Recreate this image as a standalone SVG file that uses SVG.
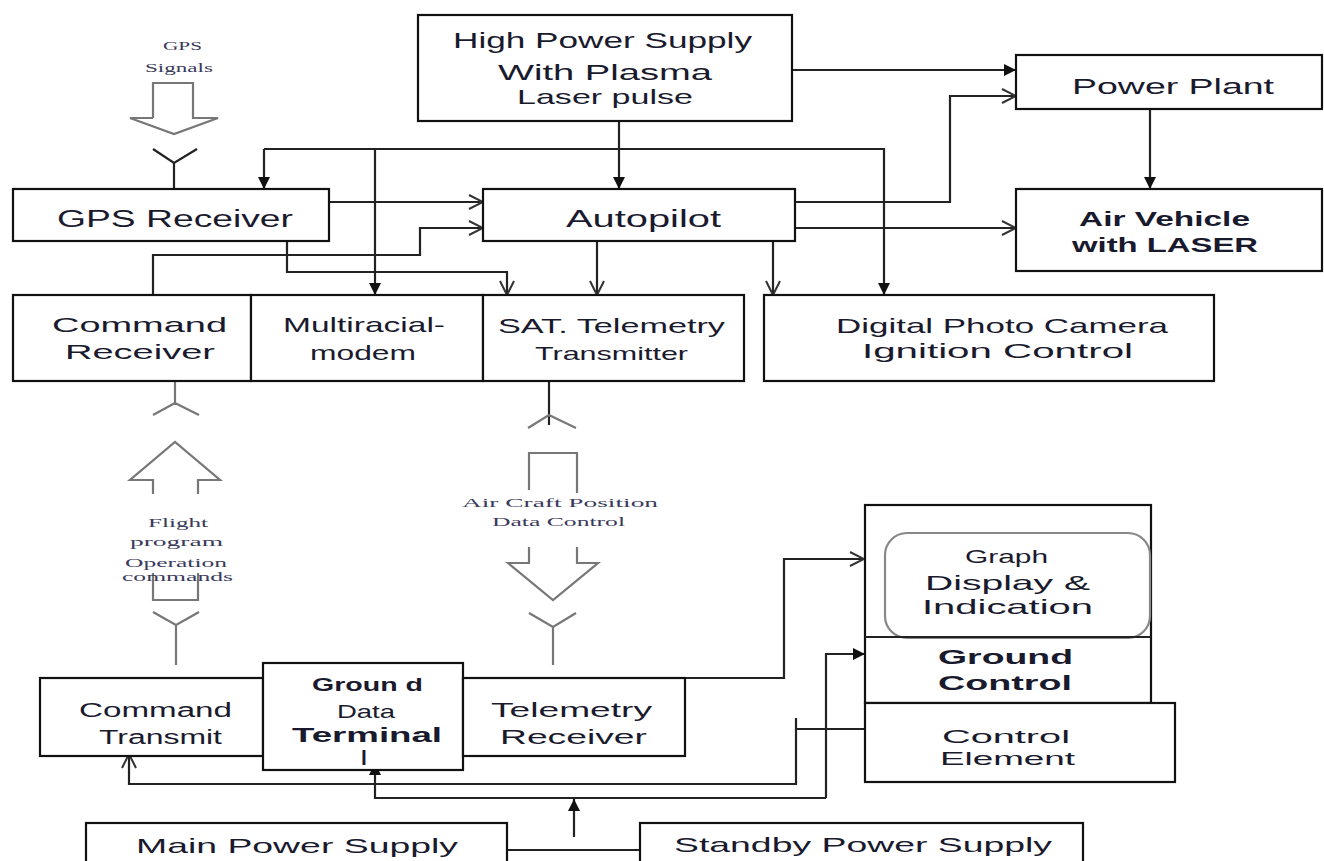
<svg xmlns="http://www.w3.org/2000/svg" width="1324" height="861" viewBox="0 0 1324 861">
<style>
.box{fill:#fff;stroke:#111;stroke-width:2.2}
.ln{fill:none;stroke:#222;stroke-width:2.2}
.gl{fill:none;stroke:#777;stroke-width:2.2}
.t{font-family:"Liberation Sans",Arial,sans-serif;fill:#1a1a2e}
.b{font-weight:bold}
.s{font-family:"Liberation Serif","Times New Roman",serif;fill:#3a3a5a;font-size:13px}
</style>
<defs>
<marker id="fa" viewBox="0 0 12 12" refX="12" refY="6" markerWidth="12" markerHeight="12" markerUnits="userSpaceOnUse" orient="auto"><path d="M0,0L12,6L0,12z" fill="#111"/></marker>
<marker id="oa" viewBox="0 0 16 16" refX="15" refY="8" markerWidth="16" markerHeight="16" markerUnits="userSpaceOnUse" orient="auto"><path d="M1,1L15,8L1,15" fill="none" stroke="#333" stroke-width="2"/></marker>
</defs>
<rect width="1324" height="861" fill="#fff"/>

<g id="connectors">
<path class="ln" d="M619,110V189" marker-end="url(#fa)"/>
<path class="ln" d="M792,70H1016" marker-end="url(#fa)"/>
<path class="ln" d="M264,149H884V295" marker-end="url(#fa)"/>
<path class="ln" d="M264,149V189" marker-end="url(#fa)"/>
<path class="ln" d="M375,149V295" marker-end="url(#fa)"/>
<path class="ln" d="M329,202H483" marker-end="url(#oa)"/>
<path class="ln" d="M153,295V255H420V228H483" marker-end="url(#oa)"/>
<path class="ln" d="M287,241V272H507V295" marker-end="url(#oa)"/>
<path class="ln" d="M597,241V295" marker-end="url(#oa)"/>
<path class="ln" d="M773,241V295" marker-end="url(#oa)"/>
<path class="ln" d="M795,202H950V96H1016" marker-end="url(#oa)"/>
<path class="ln" d="M795,228H1016" marker-end="url(#oa)"/>
<path class="ln" d="M1150,109V189" marker-end="url(#fa)"/>
<path class="ln" d="M685,678H784V559H864" marker-end="url(#oa)"/>
<path class="ln" d="M826,798V654H865" marker-end="url(#fa)"/>
<path class="ln" d="M826,798H375V763" marker-end="url(#fa)"/>
<path class="ln" d="M796,718V784H129V754" marker-end="url(#oa)"/>
<path class="ln" d="M796,729H865"/>
<path class="ln" d="M574,837V799" marker-end="url(#fa)"/>
<path class="ln" d="M507,850H640"/>
<path class="gl" d="M153,118V83H193V118H218L174,134L130,118H153"/>
<path class="ln" d="M153,149L174,163L197,149M174,163V189"/>
<path class="gl" d="M175,376V405M153,415L175,403L199,415"/>
<path class="gl" d="M153,494V480H130L175,442L220,480H198V494"/>
<path class="gl" d="M153,573V600H198V573"/>
<path class="gl" d="M153,612L176,625L199,612M176,625V665"/>
<path class="ln" d="M549,381V425"/>
<path class="gl" d="M528,428L549,415L576,428"/>
<path class="gl" d="M529,490V453H577V493"/>
<path class="gl" d="M529,547V563H508L553,600L598,563H577V547"/>
<path class="gl" d="M529,613L553,627L576,613M553,627V665"/>
</g>

<g id="gps-signals">
<text class="s" x="163" y="50" textLength="39" lengthAdjust="spacingAndGlyphs">GPS</text>
<text class="s" x="145" y="72" textLength="68" lengthAdjust="spacingAndGlyphs">Signals</text>
</g>

<g id="high-power-supply">
<rect class="box" x="418" y="15" width="374" height="106"/>
<text class="t" font-size="22" x="453" y="48" textLength="299" lengthAdjust="spacingAndGlyphs">High  Power  Supply</text>
<text class="t" font-size="22" x="498" y="80" textLength="214" lengthAdjust="spacingAndGlyphs">With Plasma</text>
<text class="t" font-size="21" x="517" y="104" textLength="176" lengthAdjust="spacingAndGlyphs">Laser  pulse</text>
</g>

<g id="power-plant">
<rect class="box" x="1016" y="55" width="306" height="54"/>
<text class="t" font-size="22" x="1072" y="94" textLength="202" lengthAdjust="spacingAndGlyphs">Power Plant</text>
</g>

<g id="gps-receiver">
<rect class="box" x="13" y="189" width="316" height="52"/>
<text class="t" font-size="23" x="57" y="227" textLength="236" lengthAdjust="spacingAndGlyphs">GPS Receiver</text>
</g>

<g id="autopilot">
<rect class="box" x="483" y="189" width="312" height="52"/>
<text class="t" font-size="23" x="566" y="227" textLength="155" lengthAdjust="spacingAndGlyphs">Autopilot</text>
</g>

<g id="air-vehicle">
<rect class="box" x="1016" y="189" width="306" height="82"/>
<text class="t b" font-size="21" x="1079" y="226" textLength="171" lengthAdjust="spacingAndGlyphs">Air  Vehicle</text>
<text class="t b" font-size="21" x="1072" y="252" textLength="186" lengthAdjust="spacingAndGlyphs">with  LASER</text>
</g>

<g id="command-receiver">
<rect class="box" x="13" y="295" width="238" height="86"/>
<text class="t" font-size="21" x="52" y="332" textLength="175" lengthAdjust="spacingAndGlyphs">Command</text>
<text class="t" font-size="21" x="65" y="359" textLength="150" lengthAdjust="spacingAndGlyphs">Receiver</text>
</g>

<g id="multiracial-modem">
<rect class="box" x="251" y="295" width="232" height="86"/>
<text class="t" font-size="21" x="283" y="332" textLength="162" lengthAdjust="spacingAndGlyphs">Multiracial-</text>
<text class="t" font-size="21" x="310" y="360" textLength="106" lengthAdjust="spacingAndGlyphs">modem</text>
</g>

<g id="sat-telemetry">
<rect class="box" x="483" y="295" width="261" height="86"/>
<text class="t" font-size="21" x="498" y="333" textLength="227" lengthAdjust="spacingAndGlyphs">SAT. Telemetry</text>
<text class="t" font-size="19" x="535" y="360" textLength="153" lengthAdjust="spacingAndGlyphs">Transmitter</text>
</g>

<g id="digital-photo-camera">
<rect class="box" x="764" y="295" width="450" height="86"/>
<text class="t" font-size="21" x="836" y="333" textLength="332" lengthAdjust="spacingAndGlyphs">Digital  Photo  Camera</text>
<text class="t" font-size="21" x="862" y="358" textLength="271" lengthAdjust="spacingAndGlyphs">Ignition Control</text>
</g>

<g id="flight-program">
<text class="s" x="148" y="527" textLength="60" lengthAdjust="spacingAndGlyphs">Flight</text>
<text class="s" x="130" y="546" textLength="93" lengthAdjust="spacingAndGlyphs">program</text>
<text class="s" x="125" y="567" textLength="102" lengthAdjust="spacingAndGlyphs">Operation</text>
<text class="s" x="122" y="581" textLength="111" lengthAdjust="spacingAndGlyphs">commands</text>
</g>

<g id="aircraft-position">
<text class="s" x="462" y="507" textLength="196" lengthAdjust="spacingAndGlyphs">Air  Craft  Position</text>
<text class="s" x="492" y="526" textLength="133" lengthAdjust="spacingAndGlyphs">Data  Control</text>
</g>

<g id="ground-control">
<rect class="box" x="865" y="505" width="286" height="198"/>
<rect x="885" y="533" width="265" height="105" rx="22" fill="none" stroke="#888" stroke-width="2.2"/>
<path class="ln" d="M865,637H1151"/>
<text class="t" font-size="19" x="965" y="563" textLength="83" lengthAdjust="spacingAndGlyphs">Graph</text>
<text class="t" font-size="21" x="925" y="590" textLength="165" lengthAdjust="spacingAndGlyphs">Display &amp;</text>
<text class="t" font-size="21" x="922" y="614" textLength="171" lengthAdjust="spacingAndGlyphs">Indication</text>
<text class="t b" font-size="21" x="938" y="664" textLength="135" lengthAdjust="spacingAndGlyphs">Ground</text>
<text class="t b" font-size="21" x="938" y="690" textLength="134" lengthAdjust="spacingAndGlyphs">Control</text>
</g>

<g id="control-element">
<rect class="box" x="865" y="703" width="310" height="79"/>
<text class="t" font-size="18" x="942" y="743" textLength="128" lengthAdjust="spacingAndGlyphs">Control</text>
<text class="t" font-size="18" x="940" y="765" textLength="135" lengthAdjust="spacingAndGlyphs">Element</text>
</g>

<g id="command-transmit">
<rect class="box" x="40" y="678" width="223" height="78"/>
<text class="t" font-size="20" x="79" y="717" textLength="153" lengthAdjust="spacingAndGlyphs">Command</text>
<text class="t" font-size="20" x="99" y="744" textLength="123" lengthAdjust="spacingAndGlyphs">Transmit</text>
</g>

<g id="ground-data-terminal">
<rect class="box" x="263" y="663" width="200" height="107"/>
<text class="t b" font-size="19" x="312" y="691" textLength="111" lengthAdjust="spacingAndGlyphs">Groun d</text>
<text class="t" font-size="19" x="337" y="718" textLength="58" lengthAdjust="spacingAndGlyphs">Data</text>
<text class="t b" font-size="21" x="292" y="742" textLength="150" lengthAdjust="spacingAndGlyphs">Terminal</text>
<text class="t b" font-size="21" x="361" y="765">l</text>
</g>

<g id="telemetry-receiver">
<rect class="box" x="463" y="678" width="222" height="78"/>
<text class="t" font-size="21" x="491" y="717" textLength="161" lengthAdjust="spacingAndGlyphs">Telemetry</text>
<text class="t" font-size="21" x="500" y="744" textLength="147" lengthAdjust="spacingAndGlyphs">Receiver</text>
</g>

<g id="main-power-supply">
<rect class="box" x="86" y="823" width="421" height="50"/>
<text class="t" font-size="21" x="136" y="853" textLength="322" lengthAdjust="spacingAndGlyphs">Main Power Supply</text>
</g>

<g id="standby-power-supply">
<rect class="box" x="640" y="823" width="443" height="50"/>
<text class="t" font-size="21" x="674" y="852" textLength="378" lengthAdjust="spacingAndGlyphs">Standby Power Supply</text>
</g>
</svg>
